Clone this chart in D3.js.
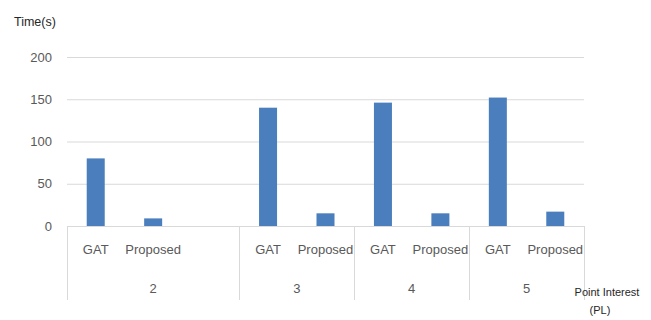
<!DOCTYPE html>
<html>
<head>
<meta charset="utf-8">
<script src="https://cdn.jsdelivr.net/npm/d3@7"></script>
<style>
  html, body { margin: 0; padding: 0; background: #fff; }
  svg { display: block; font-family: "Liberation Sans", Arial, sans-serif; }
</style>
</head>
<body>
<svg id="chart" width="651" height="320"></svg>
<script>
// ---- data ----
const groups = ["2", "3", "4", "5"];
const methods = ["GAT", "Proposed"];
const gatValues = [80, 140, 146, 152];
const proposedValues = [9, 15, 15, 17];
const blankSlots = [1, 0, 0, 0];           // empty category slots after each group
const yTicks = [0, 50, 100, 150, 200];
const yTitle = "Time(s)";
const xTitle = ["Point Interest", "(PL)"];

// ---- build slots ----
const slots = [];
const bars = [];
groups.forEach((g, gi) => {
  methods.forEach((m, mi) => {
    const key = g + "|" + m;
    slots.push({ key, group: g, label: m });
    bars.push({ key, value: mi === 0 ? gatValues[gi] : proposedValues[gi] });
  });
  for (let b = 0; b < blankSlots[gi]; b++) slots.push({ key: g + "|blank" + b, group: g, label: "" });
});

const svg = d3.select("#chart");
const plotL = 67, plotR = 584, plotT = 57, plotB = 226;

const x = d3.scaleBand().domain(slots.map(s => s.key)).range([plotL, plotR]).padding(0);
const y = d3.scaleLinear().domain([0, 200]).range([plotB, plotT]);

// gridlines
svg.append("g")
  .attr("transform", `translate(${plotL},0)`)
  .call(d3.axisLeft(y).tickValues(yTicks).tickSize(-(plotR - plotL)).tickFormat(""))
  .call(g => g.select(".domain").remove())
  .call(g => g.selectAll("line").attr("stroke", "#d9d9d9").attr("stroke-width", 1));

// y labels
svg.append("g")
  .attr("transform", `translate(${plotL - 15},0)`)
  .call(d3.axisLeft(y).tickValues(yTicks).tickSize(0).tickPadding(0))
  .call(g => g.select(".domain").remove())
  .call(g => g.selectAll("text")
    .attr("fill", "#595959")
    .style("font-size", "13px")
    .style("font-family", "'Liberation Sans', Arial, sans-serif"));

// bars
const bw = x.bandwidth() / 3.19;
svg.append("g").selectAll("rect").data(bars).join("rect")
  .attr("x", d => x(d.key) + (x.bandwidth() - bw) / 2)
  .attr("y", d => y(d.value))
  .attr("width", bw)
  .attr("height", d => y(0) - y(d.value))
  .attr("fill", "#4a7ebd");

// category axis (multi-level)
const cat = svg.append("g");
cat.selectAll("text.sub").data(slots.filter(s => s.label)).join("text")
  .attr("class", "sub")
  .attr("x", d => x(d.key) + x.bandwidth() / 2)
  .attr("y", 254)
  .attr("text-anchor", "middle")
  .attr("fill", "#595959")
  .style("font-size", "13px")
  .text(d => d.label);

// group separators & labels
const groupBounds = groups.map(g => {
  const ks = slots.filter(s => s.group === g);
  const x0 = x(ks[0].key);
  const x1 = x(ks[ks.length - 1].key) + x.bandwidth();
  return { g, x0, x1 };
});
const seps = [groupBounds[0].x0, ...groupBounds.map(b => b.x1)];
cat.selectAll("line.sep").data(seps).join("line")
  .attr("class", "sep")
  .attr("x1", d => Math.round(d) + 0.5).attr("x2", d => Math.round(d) + 0.5)
  .attr("y1", y(0)).attr("y2", 300)
  .attr("stroke", "#d9d9d9");
cat.selectAll("text.grp").data(groupBounds).join("text")
  .attr("class", "grp")
  .attr("x", d => (d.x0 + d.x1) / 2)
  .attr("y", 293)
  .attr("text-anchor", "middle")
  .attr("fill", "#595959")
  .style("font-size", "13px")
  .text(d => d.g);

// baseline
svg.append("line")
  .attr("x1", plotL).attr("x2", plotR)
  .attr("y1", Math.round(y(0)) + 0.5).attr("y2", Math.round(y(0)) + 0.5)
  .attr("stroke", "#d9d9d9");

// titles
svg.append("text")
  .attr("x", 14).attr("y", 26)
  .attr("fill", "#262626")
  .style("font-size", "12.5px")
  .text(yTitle);
svg.append("text")
  .attr("x", 607).attr("y", 296)
  .attr("text-anchor", "middle")
  .attr("fill", "#262626")
  .style("font-size", "11px")
  .text(xTitle[0]);
svg.append("text")
  .attr("x", 600).attr("y", 314)
  .attr("text-anchor", "middle")
  .attr("fill", "#262626")
  .style("font-size", "11px")
  .text(xTitle[1]);
</script>
</body>
</html>
